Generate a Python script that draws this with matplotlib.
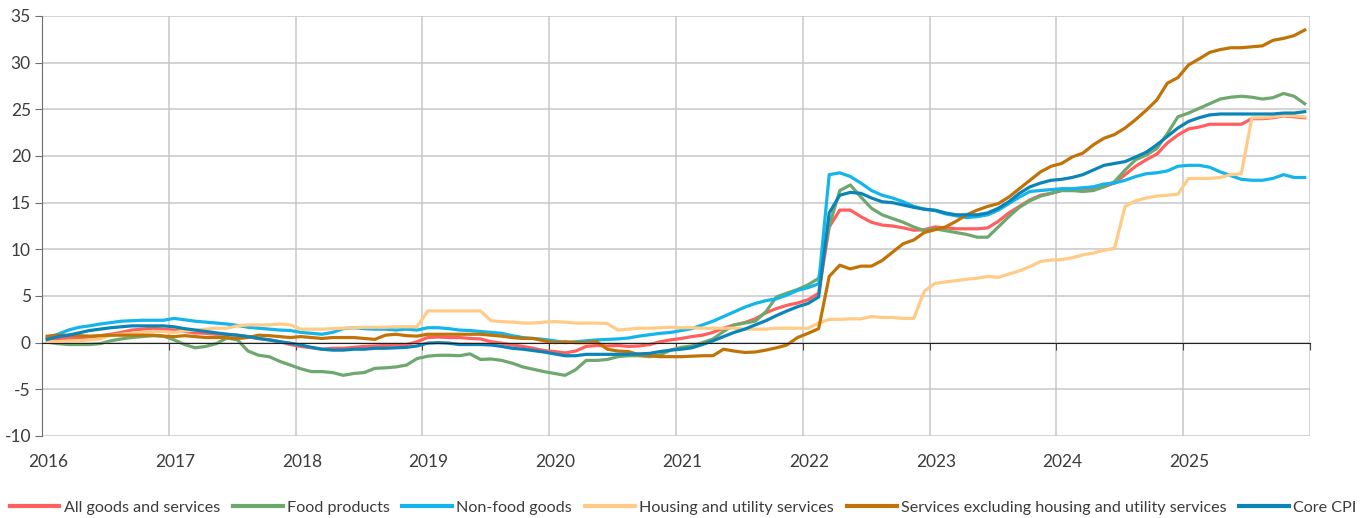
import matplotlib
matplotlib.use("Agg")
import matplotlib.pyplot as plt
import numpy as np

# monthly data, Jan 2016 - Dec 2025 (cumulative change, %)
all_goods = [0.3, 0.4, 0.45, 0.55, 0.6, 0.75, 0.9, 1.1, 1.35, 1.45, 1.55, 1.45,
             1.35, 1.2, 1.05, 1.0, 0.9, 0.9, 0.8, 0.65, 0.45, 0.3, 0.1, -0.2,
             -0.4, -0.55, -0.7, -0.6, -0.6, -0.5, -0.4, -0.35, -0.3, -0.25, -0.2, 0.1,
             0.55, 0.6, 0.55, 0.55, 0.45, 0.4, 0.1, -0.05, -0.25, -0.4, -0.6, -0.85,
             -0.95, -1.1, -0.9, -0.4, -0.3, -0.35, -0.3, -0.4, -0.35, -0.2, 0.1, 0.3,
             0.45, 0.65, 0.8, 1.1, 1.55, 1.9, 2.15, 2.55, 3.2, 3.65, 4.0, 4.25,
             4.6, 5.3, 12.4, 14.2, 14.2, 13.5, 12.9, 12.6, 12.5, 12.3, 12.05, 12.1,
             12.4, 12.3, 12.2, 12.2, 12.2, 12.3, 13.0, 13.9, 14.6, 15.3, 15.8, 16.0,
             16.3, 16.3, 16.4, 16.4, 16.7, 17.1, 18.0, 18.9, 19.6, 20.2, 21.4, 22.25,
             22.9, 23.1, 23.4, 23.4, 23.4, 23.4, 24.0, 24.0, 24.1, 24.3, 24.2, 24.1]

food = [0.05, -0.1, -0.2, -0.2, -0.2, -0.1, 0.2, 0.4, 0.55, 0.65, 0.75, 0.7,
        0.3, -0.2, -0.55, -0.4, -0.1, 0.5, 0.3, -0.9, -1.35, -1.5, -2.0, -2.4,
        -2.8, -3.1, -3.1, -3.2, -3.5, -3.3, -3.2, -2.75, -2.7, -2.6, -2.4, -1.7,
        -1.45, -1.35, -1.35, -1.4, -1.2, -1.8, -1.75, -1.9, -2.2, -2.6, -2.85, -3.1,
        -3.3, -3.5, -2.9, -1.9, -1.9, -1.8, -1.5, -1.4, -1.4, -1.5, -1.3, -0.8,
        -0.5, -0.35, 0.0, 0.4, 1.2, 1.9, 2.1, 2.3, 3.3, 4.9, 5.3, 5.7,
        6.2, 6.9, 12.5, 16.3, 16.9, 15.6, 14.4, 13.7, 13.3, 12.9, 12.4, 12.0,
        12.2, 12.0, 11.8, 11.6, 11.3, 11.3, 12.4, 13.5, 14.5, 15.2, 15.7, 16.0,
        16.3, 16.3, 16.2, 16.3, 16.7, 17.25, 18.5, 19.6, 20.1, 20.8, 22.4, 24.2,
        24.6, 25.1, 25.6, 26.1, 26.3, 26.4, 26.3, 26.1, 26.25, 26.7, 26.4, 25.6]

non_food = [0.55, 0.9, 1.35, 1.65, 1.8, 2.0, 2.15, 2.3, 2.35, 2.4, 2.4, 2.4,
            2.6, 2.45, 2.3, 2.2, 2.1, 2.0, 1.85, 1.65, 1.55, 1.45, 1.35, 1.3,
            1.1, 1.0, 0.9, 1.1, 1.5, 1.6, 1.5, 1.45, 1.45, 1.35, 1.45, 1.35,
            1.6, 1.6, 1.5, 1.35, 1.3, 1.2, 1.1, 1.0, 0.75, 0.55, 0.45, 0.35,
            0.2, 0.0, 0.1, 0.2, 0.3, 0.35, 0.4, 0.5, 0.7, 0.85, 1.0, 1.1,
            1.3, 1.5, 1.9, 2.3, 2.8, 3.3, 3.8, 4.2, 4.5, 4.7, 5.1, 5.6,
            5.9, 6.3, 18.0, 18.2, 17.8, 17.1, 16.3, 15.8, 15.5, 15.1, 14.6, 14.3,
            14.15, 13.8, 13.6, 13.4, 13.5, 13.7, 14.2, 14.9, 15.6, 16.2, 16.3, 16.4,
            16.5, 16.5, 16.6, 16.7, 17.0, 17.1, 17.4, 17.8, 18.1, 18.2, 18.4, 18.9,
            19.0, 19.0, 18.8, 18.3, 17.9, 17.5, 17.4, 17.4, 17.6, 18.0, 17.7, 17.7]

housing = [0.1, 0.1, 0.2, 0.2, 0.3, 0.4, 0.8, 0.9, 1.0, 1.1, 1.2, 1.2,
           1.1, 1.25, 1.35, 1.45, 1.55, 1.55, 1.8, 1.9, 1.9, 1.9, 2.0, 1.9,
           1.45, 1.45, 1.45, 1.5, 1.55, 1.6, 1.65, 1.65, 1.65, 1.7, 1.7, 1.7,
           3.4, 3.4, 3.4, 3.4, 3.4, 3.4, 2.35, 2.25, 2.2, 2.1, 2.1, 2.2,
           2.25, 2.2, 2.1, 2.1, 2.1, 2.05, 1.35, 1.45, 1.55, 1.55, 1.6, 1.65,
           1.6, 1.6, 1.55, 1.55, 1.55, 1.55, 1.45, 1.45, 1.45, 1.55, 1.55, 1.55,
           1.55, 2.1, 2.5, 2.5, 2.55, 2.55, 2.8, 2.7, 2.7, 2.6, 2.6, 5.5,
           6.35, 6.5, 6.65, 6.8, 6.9, 7.1, 7.0, 7.35, 7.7, 8.15, 8.7, 8.85,
           8.9, 9.1, 9.4, 9.6, 9.9, 10.1, 14.6, 15.2, 15.5, 15.7, 15.8, 15.9,
           17.6, 17.6, 17.6, 17.7, 18.0, 18.1, 24.1, 24.1, 24.2, 24.35, 24.3, 24.2]

services = [0.7, 0.8, 0.8, 0.75, 0.7, 0.75, 0.8, 0.8, 0.8, 0.8, 0.8, 0.7,
            0.65, 0.75, 0.65, 0.55, 0.55, 0.55, 0.45, 0.55, 0.8, 0.75, 0.65, 0.55,
            0.65, 0.55, 0.45, 0.55, 0.55, 0.55, 0.45, 0.35, 0.8, 0.9, 0.75, 0.7,
            0.9, 0.9, 0.9, 0.9, 0.9, 0.9, 0.8, 0.7, 0.55, 0.45, 0.45, 0.2,
            0.0, 0.1, 0.0, 0.0, 0.1, -0.7, -0.9, -0.95, -1.3, -1.4, -1.5, -1.5,
            -1.5, -1.45, -1.4, -1.4, -0.7, -0.9, -1.05, -1.0, -0.8, -0.55, -0.25, 0.55,
            1.0, 1.5, 7.1, 8.3, 7.9, 8.2, 8.2, 8.8, 9.7, 10.6, 11.0, 11.8,
            12.1, 12.4, 13.0, 13.7, 14.2, 14.6, 14.9, 15.6, 16.5, 17.4, 18.3, 18.9,
            19.2, 19.9, 20.3, 21.2, 21.9, 22.3, 23.0, 23.9, 24.9, 26.0, 27.8, 28.4,
            29.75, 30.4, 31.1, 31.4, 31.6, 31.6, 31.7, 31.8, 32.4, 32.6, 32.9, 33.5]

core = [0.35, 0.65, 0.8, 1.05, 1.3, 1.45, 1.6, 1.7, 1.8, 1.8, 1.8, 1.8,
        1.7, 1.5, 1.35, 1.2, 1.05, 0.9, 0.8, 0.65, 0.45, 0.3, 0.1, -0.05,
        -0.25, -0.5, -0.7, -0.8, -0.8, -0.7, -0.7, -0.6, -0.6, -0.55, -0.5, -0.35,
        -0.05, 0.0, -0.05, -0.2, -0.2, -0.2, -0.25, -0.4, -0.6, -0.7, -0.85, -1.0,
        -1.2, -1.4, -1.4, -1.25, -1.25, -1.25, -1.25, -1.25, -1.2, -1.15, -0.95, -0.8,
        -0.7, -0.55, -0.2, 0.2, 0.65, 1.1, 1.45, 1.9, 2.35, 2.9, 3.4, 3.85,
        4.2, 4.9, 13.9, 15.8, 16.1, 16.0, 15.5, 15.1, 15.0, 14.75, 14.5, 14.3,
        14.2, 13.9, 13.7, 13.7, 13.7, 13.9, 14.4, 15.1, 16.0, 16.7, 17.1, 17.4,
        17.5, 17.7, 18.0, 18.5, 19.0, 19.2, 19.4, 19.9, 20.4, 21.2, 22.1, 23.0,
        23.7, 24.1, 24.4, 24.5, 24.5, 24.5, 24.5, 24.5, 24.5, 24.6, 24.6, 24.75]

labels = ['All goods and services', 'Food products', 'Non-food goods',
          'Housing and utility services',
          'Services excluding housing and utility services', 'Core CPI']
colors = ['#FF5F5F', '#6EA86E', '#13B5EA', '#FFCB86', '#C27307', '#0B84B8']
years = list(range(2016, 2026))

plt.rcParams['font.family'] = ['Lato', 'DejaVu Sans']
plt.rcParams['axes.unicode_minus'] = False
txt = '#3C3C3C'

fig = plt.figure(figsize=(13.66, 5.18), dpi=100)
ax = fig.add_axes([42/1366, 82/518, 1268/1366, 420/518])

months = 2016 + (np.arange(len(all_goods)) + 0.5) / 12
series = [all_goods, food, non_food, housing, services, core]
for s, lab, c in zip(series, labels, colors):
    ax.plot(months, s, color=c, lw=2.3, label=lab, solid_joinstyle='round')

ax.set_xlim(2016, 2026)
ax.set_ylim(-10, 35)
ax.set_yticks(np.arange(-10, 36, 5))
ax.set_xticks(years + [2026])
ax.grid(True, color='#C8C8C8', lw=1.1)
ax.set_axisbelow(True)

for side in ['top', 'right']:
    ax.spines[side].set_visible(False)
ax.spines['left'].set_color('#6E6E6E')
ax.spines['bottom'].set_position(('data', 0))
ax.spines['bottom'].set_color('#222222')
ax.tick_params(axis='x', length=5, color='#444444', labelbottom=False)
ax.tick_params(axis='y', length=5, color='#6E6E6E', labelsize=12.5, labelcolor=txt, pad=3)

sec = ax.secondary_xaxis(0)
sec.set_xticks([y + 0.05 for y in years])
sec.set_xticklabels([str(y) for y in years])
sec.tick_params(length=0, labelsize=12.5, labelcolor=txt, pad=13)
sec.spines['bottom'].set_visible(False)

leg = fig.legend(loc='lower center', bbox_to_anchor=(0.5, 0.006), ncol=6,
                 frameon=False, fontsize=11.6, handlelength=3.1, handletextpad=0.25,
                 columnspacing=0.8, borderaxespad=0, borderpad=0)
for t in leg.get_texts():
    t.set_color(txt)
for l in leg.get_lines():
    l.set_linewidth(3)

fig.savefig('out.png', dpi=100)
